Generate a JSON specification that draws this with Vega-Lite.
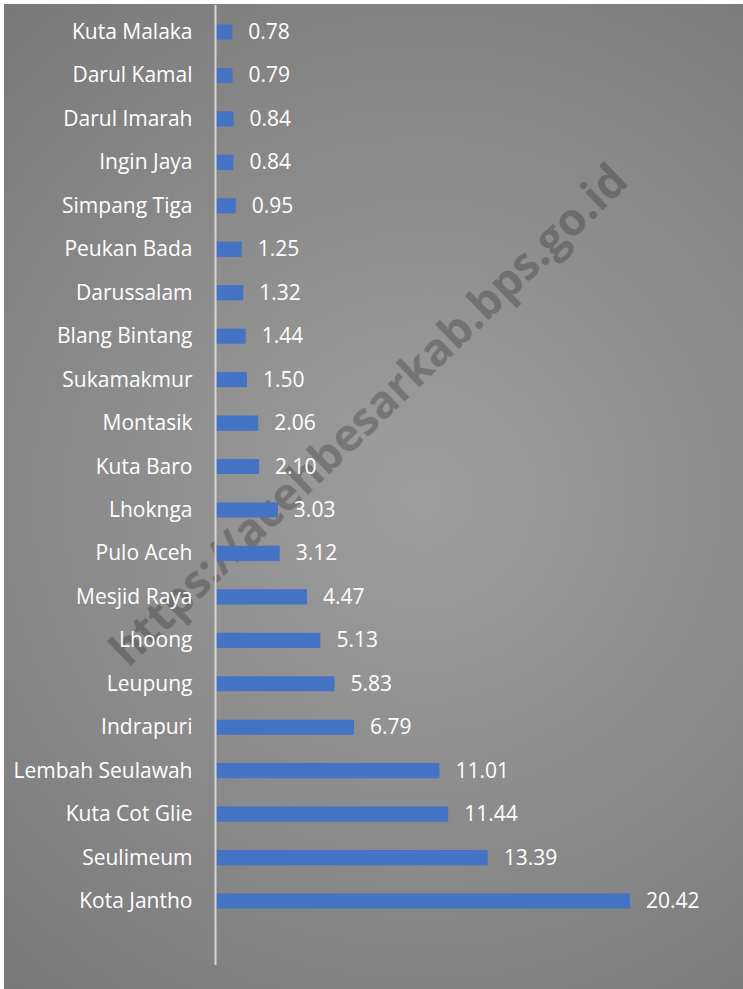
{
  "$schema": "https://vega.github.io/schema/vega-lite/v6.json",
  "width": 743,
  "height": 989,
  "autosize": {"type": "fit", "contains": "padding"},
  "padding": {"left": 4, "top": 4, "right": 0, "bottom": 0},
  "background": "#ffffff",
  "config": {"view": {"stroke": null}},
  "data": {
    "values": [
      {"kecamatan": "Kuta Malaka", "nilai": 0.78},
      {"kecamatan": "Darul Kamal", "nilai": 0.79},
      {"kecamatan": "Darul Imarah", "nilai": 0.84},
      {"kecamatan": "Ingin Jaya", "nilai": 0.84},
      {"kecamatan": "Simpang Tiga", "nilai": 0.95},
      {"kecamatan": "Peukan Bada\u00a0", "nilai": 1.25},
      {"kecamatan": "Darussalam", "nilai": 1.32},
      {"kecamatan": "Blang Bintang", "nilai": 1.44},
      {"kecamatan": "Sukamakmur", "nilai": 1.50},
      {"kecamatan": "Montasik", "nilai": 2.06},
      {"kecamatan": "Kuta Baro", "nilai": 2.10},
      {"kecamatan": "Lhoknga", "nilai": 3.03},
      {"kecamatan": "Pulo Aceh", "nilai": 3.12},
      {"kecamatan": "Mesjid Raya", "nilai": 4.47},
      {"kecamatan": "Lhoong", "nilai": 5.13},
      {"kecamatan": "Leupung", "nilai": 5.83},
      {"kecamatan": "Indrapuri", "nilai": 6.79},
      {"kecamatan": "Lembah Seulawah", "nilai": 11.01},
      {"kecamatan": "Kuta Cot Glie", "nilai": 11.44},
      {"kecamatan": "Seulimeum", "nilai": 13.39},
      {"kecamatan": "Kota Jantho", "nilai": 20.42}
    ]
  },
  "encoding": {
    "y": {
      "field": "kecamatan",
      "type": "nominal",
      "axis": null,
      "scale": {
        "type": "band",
        "domain": ["Kuta Malaka", "Darul Kamal", "Darul Imarah", "Ingin Jaya", "Simpang Tiga", "Peukan Bada\u00a0", "Darussalam", "Blang Bintang", "Sukamakmur", "Montasik", "Kuta Baro", "Lhoknga", "Pulo Aceh", "Mesjid Raya", "Lhoong", "Leupung", "Indrapuri", "Lembah Seulawah", "Kuta Cot Glie", "Seulimeum", "Kota Jantho"],
        "paddingInner": 0.33,
        "paddingOuter": 1,
        "align": 0.155,
        "round": false
      }
    },
    "x": {
      "field": "nilai",
      "type": "quantitative",
      "axis": null,
      "scale": {"domain": [-10.494, 26.0], "nice": false, "zero": false}
    }
  },
  "layer": [
    {
      "transform": [{"filter": "datum.kecamatan == 'Kuta Malaka'"}],
      "mark": {
        "type": "rect",
        "fill": {
          "gradient": "radial",
          "x1": 0.55, "y1": 0.5, "r1": 0,
          "x2": 0.55, "y2": 0.5, "r2": 0.75,
          "stops": [
            {"offset": 0, "color": "#9e9e9e"},
            {"offset": 1, "color": "#747474"}
          ]
        }
      },
      "encoding": {"x": null, "y": null}
    },
    {
      "transform": [{"filter": "datum.kecamatan == 'Montasik'"}],
      "mark": {
        "type": "text",
        "font": "Open Sans",
        "fontWeight": "bold",
        "fontSize": 45,
        "angle": -44,
        "align": "center",
        "baseline": "middle",
        "color": "#000000",
        "opacity": 0.22,
        "dy": -10
      },
      "encoding": {
        "x": {"datum": 7.9, "type": "quantitative"},
        "text": {"datum": "https://acehbesarkab.bps.go.id"}
      }
    },
    {
      "mark": {"type": "bar", "color": "#4472C4", "height": {"band": 0.52}}
    },
    {
      "transform": [{"filter": "datum.kecamatan == 'Kuta Malaka'"}],
      "mark": {"type": "rule", "color": "#d4d4d4", "strokeWidth": 2, "xOffset": -1, "yOffset": -27, "y2Offset": 64},
      "encoding": {
        "x": {"datum": 0, "type": "quantitative"},
        "y2": {"datum": "Kota Jantho"}
      }
    },
    {
      "mark": {"type": "text", "font": "Open Sans", "fontSize": 21, "color": "#ffffff", "align": "right", "baseline": "middle", "dx": -24, "dy": 1},
      "encoding": {
        "x": {"datum": 0, "type": "quantitative"},
        "text": {"field": "kecamatan"}
      }
    },
    {
      "mark": {"type": "text", "font": "Open Sans", "fontSize": 21, "color": "#ffffff", "align": "left", "baseline": "middle", "dx": 16, "dy": 1},
      "encoding": {
        "text": {"field": "nilai", "type": "quantitative", "format": ".2f"}
      }
    }
  ]
}
